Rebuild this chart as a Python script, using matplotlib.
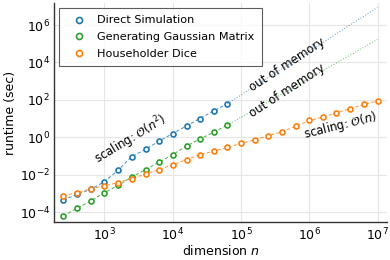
import matplotlib
matplotlib.use("Agg")
import matplotlib.pyplot as plt

# dimensions n
n_short = [250, 400, 630, 1000, 1600, 2500, 4000, 6300, 10000, 16000, 25000, 40000, 63000]
n_long = n_short + [100000, 160000, 250000, 400000, 630000, 1000000, 1600000,
                    2500000, 4000000, 6300000, 10000000]

# runtimes in seconds
direct_sim = [4.6e-4, 9.1e-4, 1.7e-3, 4.3e-3, 1.8e-2, 9.3e-2, 0.23, 0.63, 1.6, 4.1, 10.2, 26, 62]
gauss_matrix = [6.3e-5, 1.66e-4, 4.0e-4, 1.12e-3, 2.75e-3, 7.6e-3, 1.9e-2, 4.7e-2, 0.12, 0.35,
                0.81, 1.9, 4.5]
householder = [7.8e-4, 1.12e-3, 1.8e-3, 2.6e-3, 3.9e-3, 6.3e-3, 1.1e-2, 1.9e-2, 3.5e-2, 6.5e-2,
               0.12, 0.18, 0.29, 0.48, 0.74, 1.23, 2.0, 3.9, 8.1, 12, 21, 34, 58, 89]

# extrapolated (out of memory) parts
extrap_n = [63000, 10000000]
direct_extrap = [62, 8.7e6]
gauss_extrap = [4.5, 1.7e5]

blue, green, orange = "#1f77b4", "#2ca02c", "#ff7f0e"

plt.rcParams["font.family"] = "DejaVu Sans"
plt.rcParams["mathtext.fontset"] = "dejavusans"

fig = plt.figure(figsize=(3.9, 2.6), dpi=100)
ax = fig.add_axes([0.1385, 0.146, 0.854, 0.842])

series = [(n_short, direct_sim, blue, "Direct Simulation"),
          (n_short, gauss_matrix, green, "Generating Gaussian Matrix"),
          (n_long, householder, orange, "Householder Dice")]

# dashed connecting lines, a bit faded
for x, y, c, _ in series:
    ax.plot(x, y, color=c, linestyle=(0, (3, 2)), linewidth=0.8, alpha=0.75)

# hollow circle markers
for x, y, c, lab in series:
    ax.plot(x, y, color=c, linestyle="none", marker="o", markersize=3.6,
            markerfacecolor="white", markeredgewidth=1.2, label=lab)

ax.plot(extrap_n, direct_extrap, color=blue, linestyle=(0, (1, 1.5)), linewidth=0.8, alpha=0.6)
ax.plot(extrap_n, gauss_extrap, color=green, linestyle=(0, (1, 1.5)), linewidth=0.8, alpha=0.6)

ax.set_xscale("log")
ax.set_yscale("log")
ax.set_xlim(10**2.262, 10**7.14)
ax.set_ylim(10**-4.52, 10**7.17)
ax.set_xticks([1e3, 1e4, 1e5, 1e6, 1e7])
ax.set_yticks([1e-4, 1e-2, 1e0, 1e2, 1e4, 1e6])
ax.minorticks_off()
ax.tick_params(length=0, labelsize=9, pad=3)
ax.grid(True, color="#e6e6e6", linewidth=0.8)
ax.set_axisbelow(True)
for side in ["top", "right"]:
    ax.spines[side].set_visible(False)
for side in ["left", "bottom"]:
    ax.spines[side].set_linewidth(1.0)
    ax.spines[side].set_color("#333333")

ax.set_xlabel("dimension $n$", fontsize=9, labelpad=1)
ax.set_ylabel("runtime (sec)", fontsize=9, labelpad=2)

tk = dict(fontsize=8.5, ha="center", va="center", rotation_mode="anchor")
ax.text(2450, 0.72, r"scaling: $\mathcal{O}(n^2)$", rotation=31, **tk)
ax.text(4.8e5, 7200, "out of memory", rotation=33, **tk)
ax.text(4.8e5, 295, "out of memory", rotation=33, **tk)
ax.text(2.9e6, 4.5, r"scaling: $\mathcal{O}(n)$", rotation=14, **tk)

leg = ax.legend(loc="upper left", fontsize=8.1, frameon=True, fancybox=False,
                edgecolor="#333333", borderaxespad=0.45, handlelength=2.3,
                handletextpad=0.45, borderpad=0.65, labelspacing=0.6, markerscale=1.2)
leg.get_frame().set_linewidth(0.8)

fig.savefig("out.png", dpi=100)
